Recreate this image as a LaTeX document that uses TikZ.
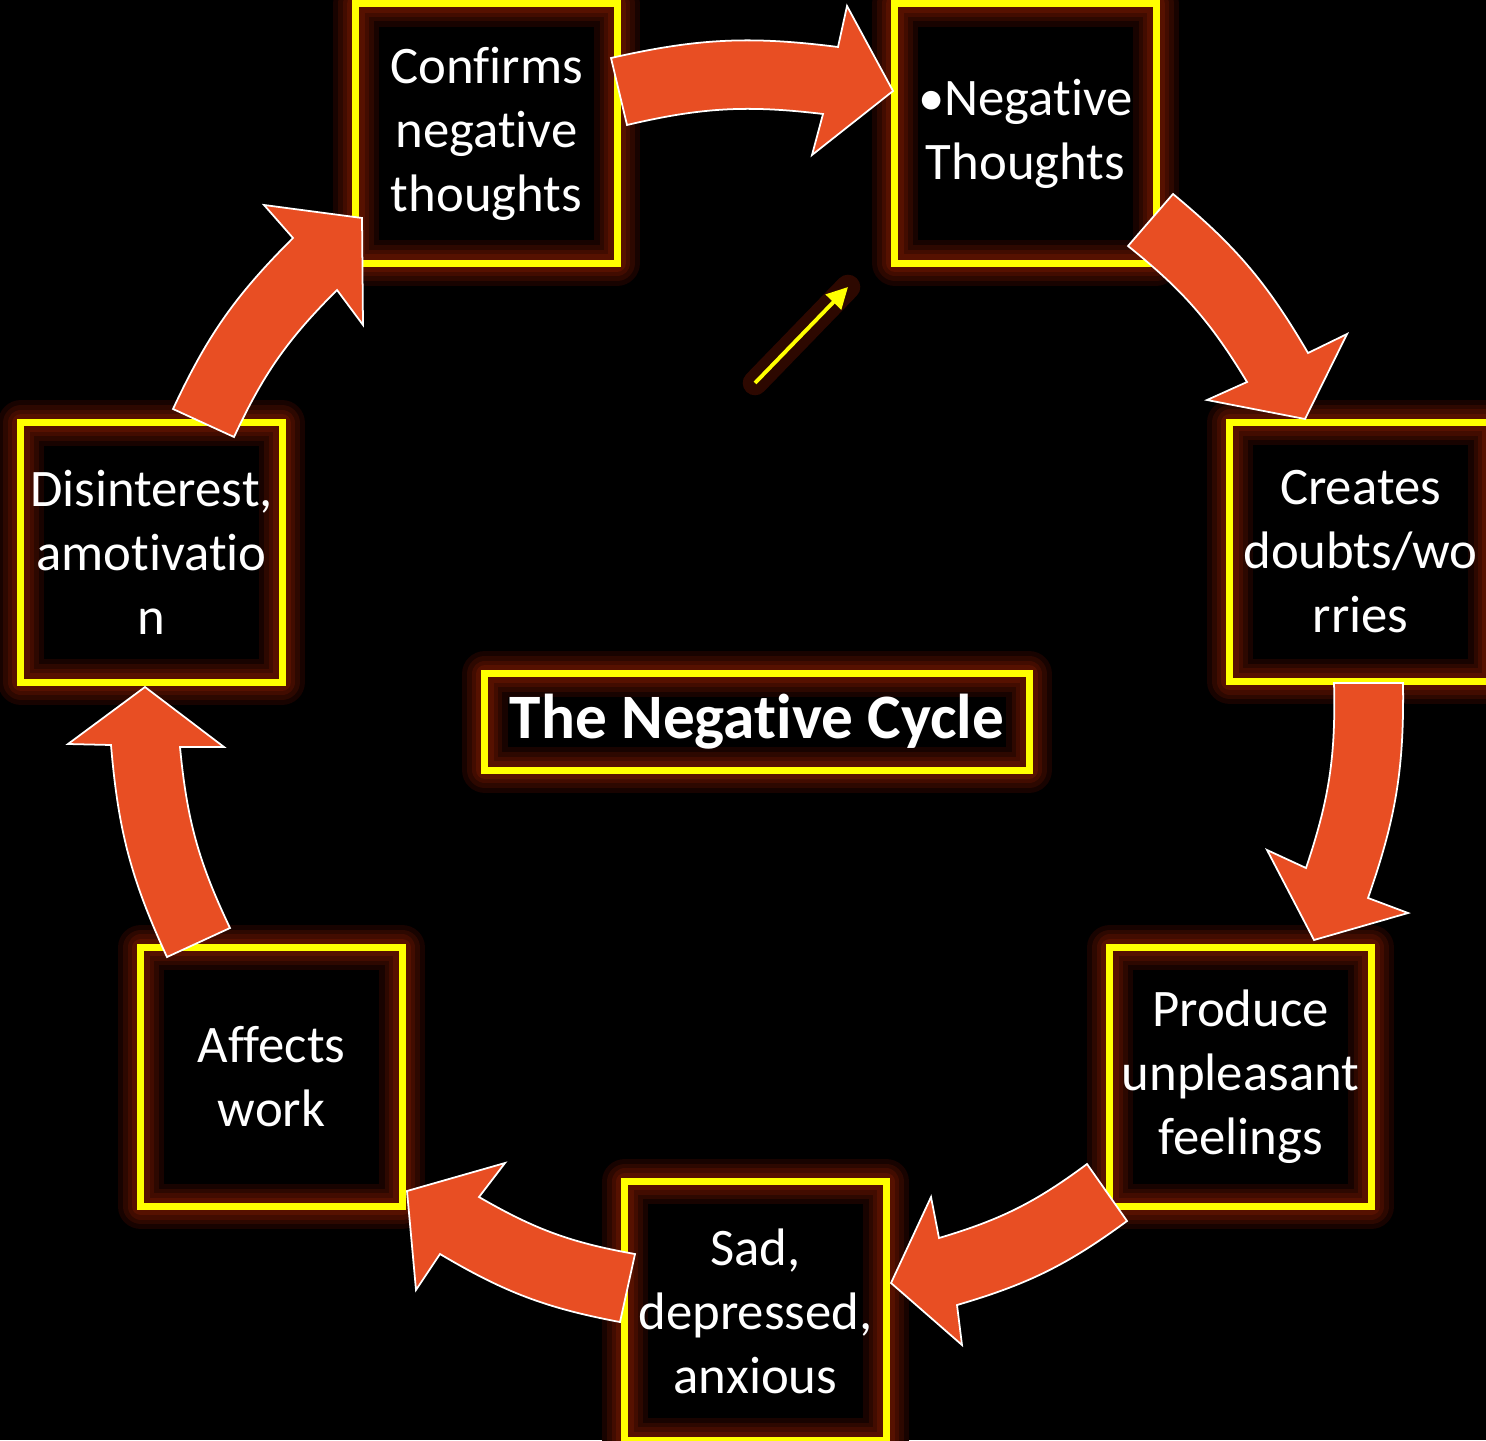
\documentclass[tikz,border=0pt]{standalone}
\usepackage{fontspec}
\setmainfont[Ligatures=NoCommon]{Carlito}
\usetikzlibrary{arrows.meta}
\definecolor{glowA}{RGB}{24,3,0}
\definecolor{glowB}{RGB}{45,8,0}
\definecolor{glowC}{RGB}{66,12,0}
\definecolor{glowD}{RGB}{86,17,0}
\definecolor{arrowred}{RGB}{232,78,35}
\definecolor{neonyellow}{RGB}{255,255,0}

\begin{document}
\begin{tikzpicture}[x=0.01cm,y=-0.01cm,
  box/.style={draw=neonyellow, line width=2pt, minimum width=2.61cm, minimum height=2.59cm,
    inner sep=0pt, text=white, align=center, font=\fontsize{15}{18.2}\selectfont,
    preaction={draw=glowA, line width=13pt, line join=round},
    preaction={draw=glowB, line width=10pt, line join=round},
    preaction={draw=glowC, line width=7.5pt, line join=round},
    preaction={draw=glowD, line width=5pt, line join=round}},
  blk/.style={fill=arrowred, draw=white, line width=0.5pt},
  ptrglow/.style={line cap=round, line width=7pt, glowB},
  ptr/.style={neonyellow, line width=1.1pt, -{Triangle[length=6pt,width=6pt]}}]
\useasboundingbox (0,0) rectangle (1486,1440);
\fill[black] (0,0) rectangle (1486,1440);
\node[box] (conf) at (486.5,133.5) {Confirms\\negative\\thoughts};
\node[box] (neg) at (1025.5,133.5) {•Negative\\Thoughts};
\node[box] (doubt) at (1360.5,552) {Creates\\doubts/wo\\rries};
\node[box] (feel) at (1240.5,1077) {Produce\\unpleasant\\feelings};
\node[box] (sad) at (755.5,1311) {Sad,\\depressed,\\anxious};
\node[box] (work) at (271.5,1077) {Affects\\work};
\node[box] (inter) at (151.5,552.5) {Disinterest,\\amotivatio\\n};
\node[box, minimum width=5.44cm, minimum height=0.96cm,
  font=\fontsize{18}{22}\selectfont\bfseries] (cyc) at (757,722) {The Negative Cycle};
\draw[blk] (611,58) to[bend left=10] (838,47) -- (847,6) -- (893,91) -- (812,155)
  -- (823,114) to[bend right=10] (627,125) -- cycle;
\draw[blk] (1173,194) to[bend left=10] (1308,353) -- (1347,334) -- (1305,419) -- (1207,400)
  -- (1247,382) to[bend right=10] (1128,246) -- cycle;
\draw[blk] (1403,683) to[bend left=10] (1368,898) -- (1408,913) -- (1314,940) -- (1267,850)
  -- (1306,868) to[bend right=10] (1334,683) -- cycle;
\draw[blk] (1127,1221) to[bend left=10] (957,1305) -- (962,1345) -- (891,1283) -- (931,1197)
  -- (939,1238) to[bend right=10] (1087,1164) -- cycle;
\draw[blk] (620,1322) to[bend left=10] (440,1254) -- (416,1290) -- (407,1191) -- (505,1163)
  -- (479,1197) to[bend right=10] (635,1254) -- cycle;
\draw[blk] (167,957) to[bend left=10] (111,745) -- (68,744) -- (145,687) -- (224,747)
  -- (180,747) to[bend right=10] (230,928) -- cycle;
\draw[blk] (173,409) to[bend left=10] (293,238) -- (264,205) -- (362,218) -- (363,325)
  -- (337,290) to[bend right=10] (234,437) -- cycle;
\coordinate (ptrA) at (755,383);
\coordinate (ptrB) at (848,287);
\draw[ptrglow] (ptrA) -- (ptrB);
\draw[ptr] (ptrA) -- (ptrB);
\end{tikzpicture}
\end{document}
